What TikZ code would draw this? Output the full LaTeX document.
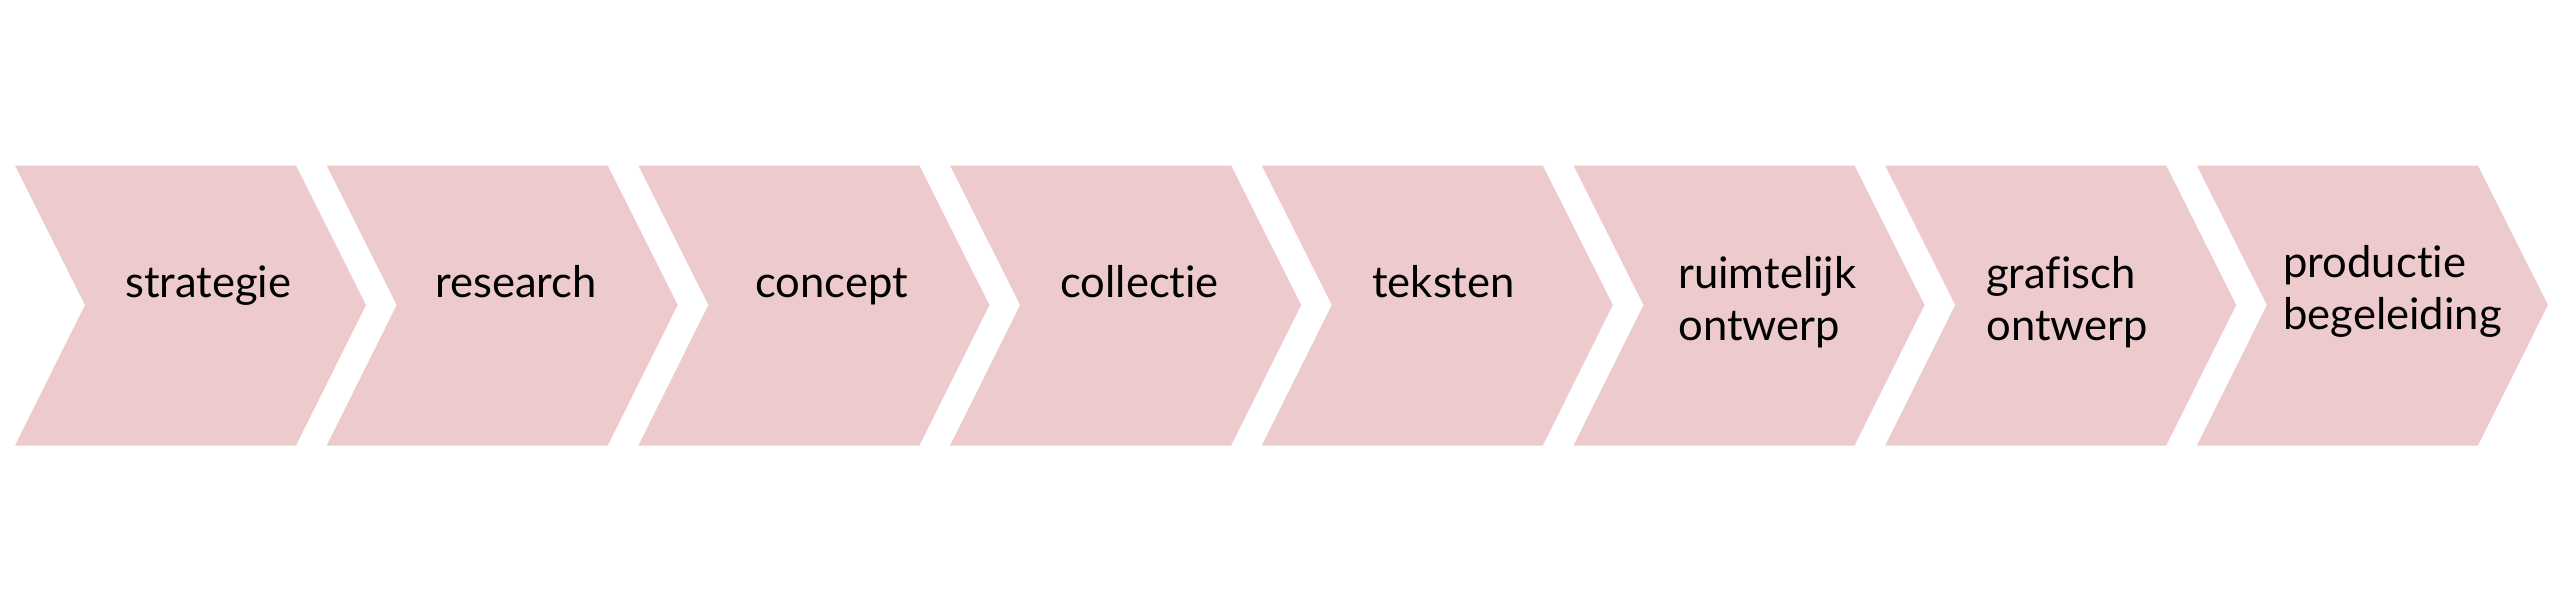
\documentclass[tikz,border=0pt]{standalone}
\usepackage{fontspec}
\setmainfont{Lato}[Ligatures={NoCommon,NoRequired,NoContextual}]
\definecolor{chevpink}{RGB}{237,203,205}
\begin{document}
\begin{tikzpicture}[x=0.25mm,y=-0.25mm,
  chev/.style={fill=chevpink,draw=none},
  lbl/.style={anchor=base west,inner sep=0pt,text width=70mm,align=left,
    font={\fontsize{31}{37}\selectfont},text=black}]
\path[use as bounding box,fill=white] (0,0) rectangle (2560,609);
\foreach \i in {0,...,7}{
  \pgfmathsetmacro{\xo}{15+311.7*\i}
  \fill[chev] (\xo,165.5) -- ++(281,0) -- ++(70,139.5) -- ++(-70,140.5)
     -- ++(-281,0) -- ++(70,-140.5) -- cycle;
}
\node[lbl] (t1) at (125,297) {strategie};
\node[lbl] (t2) at (435,297) {research};
\node[lbl] (t3) at (755,297) {concept};
\node[lbl] (t4) at (1060,297) {collectie};
\node[lbl] (t5) at (1372,297) {teksten};
\node[lbl] (t6) at (1678,288) {ruimtelijk\\ontwerp};
\node[lbl] (t7) at (1986,288) {grafisch\\ontwerp};
\node[lbl] (t8) at (2283,277) {productie\\begeleiding};
\end{tikzpicture}
\end{document}
